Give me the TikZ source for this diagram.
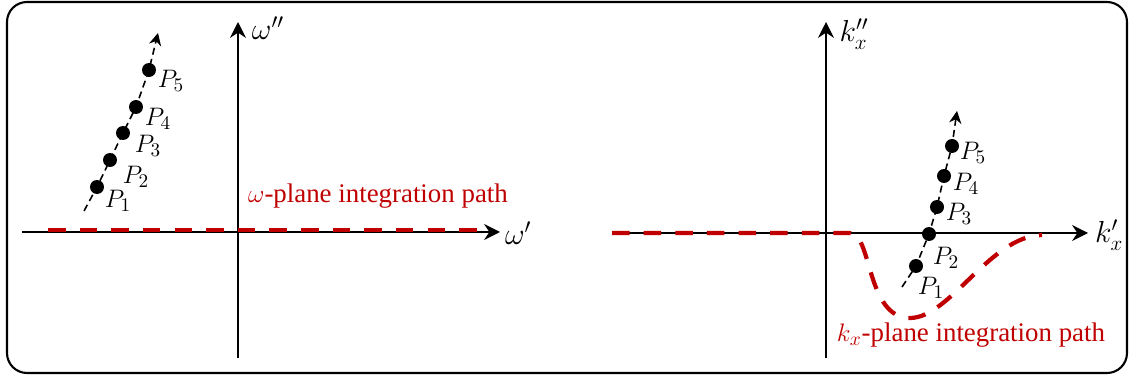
\documentclass[tikz,border=0pt]{standalone}
\usepackage{fontspec}
\setmainfont{Liberation Serif}
\usepackage{tikz}
\usetikzlibrary{arrows.meta,calc}
\definecolor{PathRed}{HTML}{C00000}

\tikzset{
  axis/.style={line width=1.2pt, -{Stealth[length=9pt,width=9pt]}},
  ptline/.style={line width=0.9pt, dash pattern=on 4pt off 2.5pt, -{Stealth[length=7pt,width=7pt]}},
  pt/.style={circle, fill=black, inner sep=0pt, minimum size=0.28cm},
  ptlabel/.style={font=\fontsize{15}{17}\selectfont, inner sep=1pt},
  axlabel/.style={font=\fontsize{17}{19}\selectfont, inner sep=1pt},
  redpath/.style={PathRed, line width=2.4pt, dash pattern=on 10pt off 8pt},
  redlabel/.style={PathRed, font=\fontsize{15.3}{17}\selectfont}
}

\begin{document}
\begin{tikzpicture}[x=0.02cm, y=-0.02cm]
  \useasboundingbox (0,0) rectangle (1133,378);
  \draw[line width=1.2pt, rounded corners=0.4cm] (7,2) rectangle (1127,373);

  % omega plane
  \coordinate (wxs) at (22,232);
  \coordinate (wxe) at (500,232);
  \coordinate (wys) at (238,358);
  \coordinate (wye) at (238,22);
  \draw[axis] (wxs) -- (wxe);
  \draw[axis] (wys) -- (wye);
  \node[axlabel, anchor=west] (wre) at (503,233) {$\omega'$};
  \node[axlabel] (wim) at (268,28) {$\omega''$};

  \coordinate (wps) at (48,230);
  \coordinate (wpe) at (482,230);
  \draw[redpath] (wps) -- (wpe);
  \node[redlabel] (wpath) at (378,196) {$\omega$-plane integration path};

  \node[pt] (a1) at (97,187) {};
  \node[pt] (a2) at (110,160) {};
  \node[pt] (a3) at (123,133) {};
  \node[pt] (a4) at (136,107) {};
  \node[pt] (a5) at (149,70) {};
  \coordinate (ls) at (84,211);
  \coordinate (le) at (158,33);
  \draw[ptline] (ls) -- (a1.center) -- (a2.center) -- (a3.center)
    -- (a4.center) -- (a5.center) -- (le);
  \node[ptlabel] (a1l) at (118,201) {$P_1$};
  \node[ptlabel] (a2l) at (136,177) {$P_2$};
  \node[ptlabel] (a3l) at (148,146) {$P_3$};
  \node[ptlabel] (a4l) at (158,119) {$P_4$};
  \node[ptlabel] (a5l) at (171,81) {$P_5$};

  % k_x plane
  \coordinate (kxs) at (612,233);
  \coordinate (kxe) at (1088,233);
  \coordinate (kys) at (826,358);
  \coordinate (kye) at (826,22);
  \draw[axis] (kxs) -- (kxe);
  \draw[axis] (kys) -- (kye);
  \node[axlabel, anchor=west] (kre) at (1093,235) {$k'_x$};
  \node[axlabel] (kim) at (854,34) {$k''_x$};

  \coordinate (kps) at (612,233);
  \coordinate (kpa) at (850,233);
  \coordinate (kpb) at (910,318);
  \coordinate (kpe) at (1042,235);
  \draw[redpath] (kps) -- (kpa)
    .. controls (872,233) and (866,318) .. (kpb)
    .. controls (950,318) and (990,236) .. (kpe);
  \node[redlabel] (kpath) at (971,335) {$k_x$-plane integration path};

  \node[pt] (b1) at (916,266) {};
  \node[pt] (b2) at (929,234) {};
  \node[pt] (b3) at (937,207) {};
  \node[pt] (b4) at (944,176) {};
  \node[pt] (b5) at (952,146) {};
  \coordinate (rs) at (902,287);
  \coordinate (re) at (957,111);
  \draw[ptline] (rs) -- (b1.center) -- (b2.center) -- (b3.center)
    -- (b4.center) -- (b5.center) -- (re);
  \node[ptlabel] (b1l) at (931,288) {$P_1$};
  \node[ptlabel] (b2l) at (946,258) {$P_2$};
  \node[ptlabel] (b3l) at (959,214) {$P_3$};
  \node[ptlabel] (b4l) at (966,184) {$P_4$};
  \node[ptlabel] (b5l) at (973,153) {$P_5$};
\end{tikzpicture}
\end{document}
